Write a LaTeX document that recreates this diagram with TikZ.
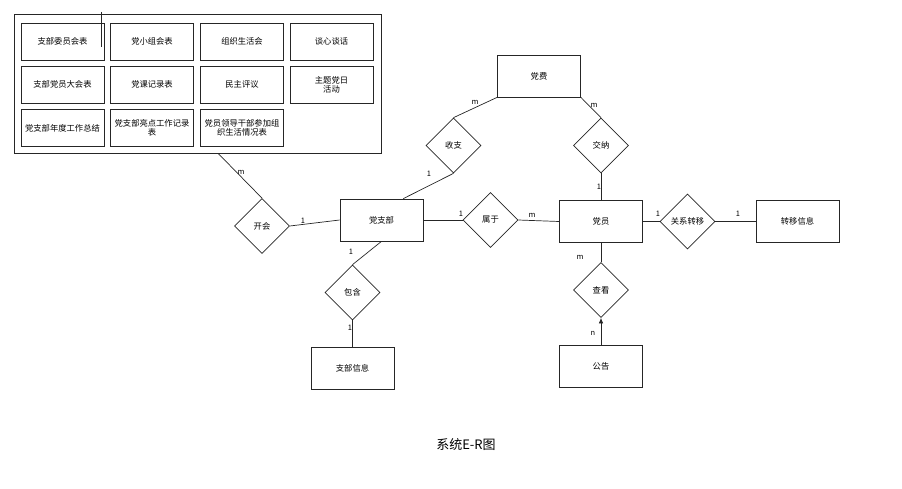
\documentclass[tikz,border=0pt]{standalone}
\usepackage{fontspec}
\setmainfont{Noto Sans CJK SC}
\usetikzlibrary{shapes.geometric,arrows.meta,calc}
\begin{document}
\begin{tikzpicture}[x=1pt,y=-1pt,
  conn/.style={draw=black!85, line width=0.7pt},
  ent/.style={conn, rectangle, minimum width=83pt, minimum height=42pt, inner sep=0pt, font=\fontsize{8.3}{9.5}\selectfont},
  rel/.style={conn, diamond, aspect=1, minimum width=55pt, minimum height=55pt, inner sep=0pt, font=\fontsize{8.3}{9.5}\selectfont},
  tbl/.style={conn, rectangle, minimum width=83pt, minimum height=37pt, inner sep=1pt, align=center, font=\fontsize{8.3}{9.3}\selectfont},
  card/.style={font=\fontsize{7.5}{8}\selectfont, inner sep=0pt}
]
\useasboundingbox (0,0) rectangle (902,489);
% table container
\node[conn, rectangle, minimum width=367pt, minimum height=139pt, inner sep=0pt] (tables) at (197.5,83.5) {};
\node[tbl] (t11) at (62.5,41.5) {支部委员会表};
\node[tbl] (t12) at (152,41.5) {党小组会表};
\node[tbl] (t13) at (242,41.5) {组织生活会};
\node[tbl] (t14) at (331.5,41.5) {谈心谈话};
\node[tbl] (t21) at (62.5,84.5) {支部党员大会表};
\node[tbl] (t22) at (152,84.5) {党课记录表};
\node[tbl] (t23) at (242,84.5) {民主评议};
\node[tbl] (t24) at (331.5,84.5) {主题党日\\活动};
\node[tbl] (t31) at (62.5,128) {党支部年度工作总结};
\node[tbl] (t32) at (152,128) {党支部亮点工作记录\\表};
\node[tbl] (t33) at (242,128) {党员领导干部参加组\\织生活情况表};
\coordinate (vt) at (101.7,12);
\coordinate (vb) at (101.7,47);
\draw[conn] (vt) -- (vb);
% entities
\node[ent] (dzb) at (381.5,220) {党支部};
\node[ent] (df) at (539,76) {党费};
\node[ent] (dy) at (601,221.5) {党员};
\node[ent] (zyxx) at (797.5,221.5) {转移信息};
\node[ent] (zbxx) at (352.5,368) {支部信息};
\node[ent] (gg) at (601,366) {公告};
% relations
\node[rel] (kh) at (262,226) {开会};
\node[rel] (sz) at (453.5,145.5) {收支};
\node[rel] (jn) at (601,145.5) {交纳};
\node[rel] (sy) at (490.5,220) {属于};
\node[rel] (gxzy) at (687.5,221.5) {关系转移};
\node[rel] (bh) at (352.5,292.5) {包含};
\node[rel] (ck) at (601,290) {查看};
% connectors
\draw[conn] ($(tables.south west)!0.556!(tables.south east)$) -- (kh.north);
\draw[conn] (kh.east) -- (dzb.west);
\draw[conn] (df.south west) -- (sz.north);
\draw[conn] (sz.south) -- ($(dzb.north west)!0.76!(dzb.north east)$);
\draw[conn] (df.south east) -- (jn.north);
\draw[conn] (jn.south) -- (dy.north);
\draw[conn] (dzb.east) -- (sy.west);
\draw[conn] (sy.east) -- (dy.west);
\draw[conn] (dy.east) -- (gxzy.west);
\draw[conn] (gxzy.east) -- (zyxx.west);
\draw[conn] (dzb.south) -- (bh.north);
\draw[conn] (bh.south) -- (zbxx.north);
\draw[conn] (dy.south) -- (ck.north);
\draw[conn,-{Latex[length=5.5pt,width=4.5pt]}] (gg.north) -- (ck.south);
% cardinalities
\node[card] (c1) at (241,172) {m};
\node[card] (c2) at (303,221) {1};
\node[card] (c3) at (429,174) {1};
\node[card] (c4) at (475,102) {m};
\node[card] (c5) at (594,105) {m};
\node[card] (c6) at (599,187) {1};
\node[card] (c7) at (461,214) {1};
\node[card] (c8) at (532,215) {m};
\node[card] (c9) at (658,214) {1};
\node[card] (c10) at (738,214) {1};
\node[card] (c11) at (351,252) {1};
\node[card] (c12) at (350,328) {1};
\node[card] (c13) at (580,257) {m};
\node[card] (c14) at (593,333) {n};
% caption
\node[font=\fontsize{13}{15}\selectfont] (cap) at (466,445) {系统E-R图};
\end{tikzpicture}
\end{document}
